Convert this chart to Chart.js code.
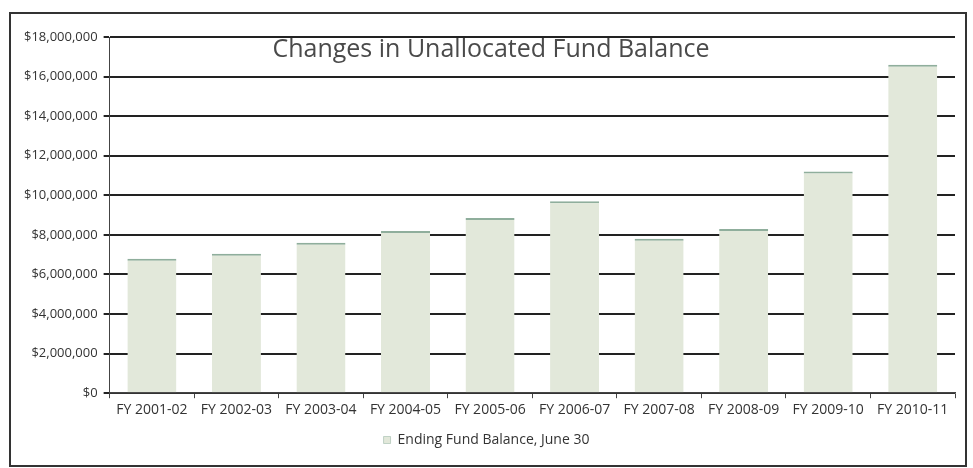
<!DOCTYPE html>
<html>
<head>
<meta charset="utf-8">
<script src="https://cdn.jsdelivr.net/npm/chart.js@4/dist/chart.umd.min.js"></script>
<style>
  body { margin: 0; background: #fff; }
  #wrap { position: absolute; left: 9px; top: 12px; width: 954px; height: 451px; border: 2px solid #333; }
  #title { position: absolute; left: 0; width: 982px; top: 30px; text-align: center; font: 25px "Open Sans", sans-serif; color: #4a4a4a; }
</style>
</head>
<body>
<div id="wrap"></div>
<canvas id="fund" width="973" height="468" style="position:absolute;left:0;top:0"></canvas>
<div id="title">Changes in Unallocated Fund Balance</div>
<script>
var years = ['FY 2001-02', 'FY 2002-03', 'FY 2003-04', 'FY 2004-05', 'FY 2005-06',
             'FY 2006-07', 'FY 2007-08', 'FY 2008-09', 'FY 2009-10', 'FY 2010-11'];
var balance = [6800000, 7050000, 7600000, 8200000, 8850000,
               9700000, 7800000, 8300000, 11200000, 16600000];
var seriesName = 'Ending Fund Balance, June 30';

// format like $12,000,000
function dollars(v) {
  return '$' + v.toLocaleString('en-US');
}

Chart.defaults.font.family = '"Open Sans", sans-serif';
Chart.defaults.color = '#333';

new Chart(document.getElementById('fund'), {
  type: 'bar',
  data: {
    labels: years,
    datasets: [{
      label: seriesName,
      data: balance,
      backgroundColor: '#e2e8da',
      borderColor: '#8fae9c',
      borderWidth: { top: 2, left: 0, right: 0, bottom: 0 },
      barPercentage: 0.58,
      categoryPercentage: 1
    }]
  },
  options: {
    responsive: false,
    animation: false,
    layout: { padding: { left: 18, right: 18, top: 37, bottom: 11 } },
    plugins: {
      title: { display: false },
      tooltip: { enabled: false },
      legend: {
        position: 'bottom',
        labels: { boxWidth: 7, boxHeight: 7, font: { size: 14 }, color: '#333', padding: 12 }
      }
    },
    scales: {
      x: {
        grid: { display: true, drawOnChartArea: false, color: '#444', tickLength: 5, offset: true },
        border: { color: '#444', width: 1.5 },
        ticks: { font: { size: 14 }, color: '#333', maxRotation: 0, padding: 3 }
      },
      y: {
        min: 0,
        max: 18000000,
        grid: { color: '#222', lineWidth: 2, tickLength: 6 },
        border: { color: '#444', width: 1 },
        ticks: { stepSize: 2000000, font: { size: 13 }, color: '#333', padding: 6, callback: dollars }
      }
    }
  }
});
</script>
</body>
</html>
